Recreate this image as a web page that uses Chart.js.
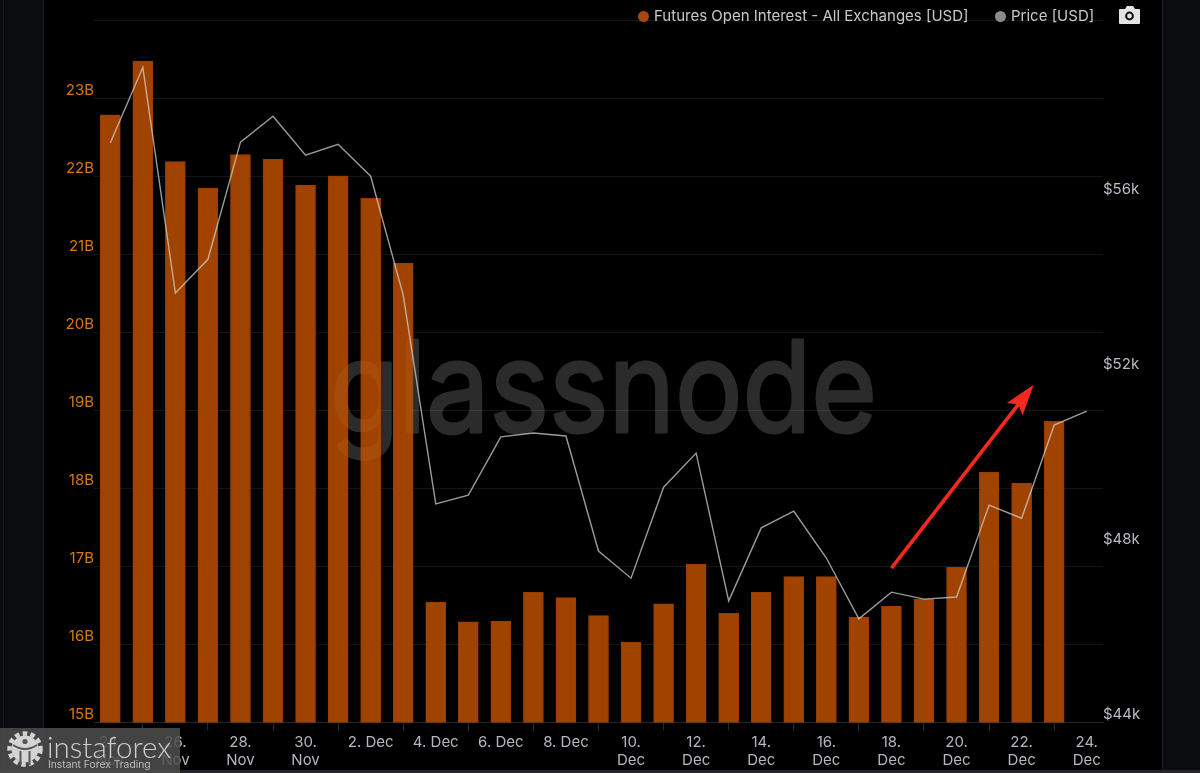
<!DOCTYPE html>
<html>
<head>
<meta charset="utf-8">
<title>Futures Open Interest</title>
<script src="https://cdn.jsdelivr.net/npm/chart.js@4"></script>
<style>
  html, body { margin: 0; padding: 0; background: #0b0c10; overflow: hidden; }
  #frame { position: relative; width: 1200px; height: 773px; overflow: hidden; font-family: Inter, sans-serif; }
  #panel { position: absolute; left: 43px; top: 0; width: 1120px; height: 770px; background: #000;
           border-left: 1px solid #1d1f24; border-right: 1px solid #1d1f24; box-sizing: border-box; }
  #strip { position: absolute; left: 3px; top: 0; width: 1px; height: 770px; background: #17181c; }
  #edge { position: absolute; left: 0; top: 770px; width: 1200px; height: 3px; background: #25242c; }
  #chart { position: absolute; left: 0; top: 0; }
  .leg { position: absolute; top: 7px; font-size: 15px; line-height: 18px; color: #c9c9c9; white-space: nowrap; }
  .dot { position: absolute; top: 11px; width: 11px; height: 11px; border-radius: 50%; }
  #camera { position: absolute; left: 1118px; top: 5px; }
  #insta { position: absolute; left: 0; top: 728px; width: 180px; height: 45px; background: rgba(78,78,78,0.86); }
  #insta svg { position: absolute; left: 6px; top: 2px; }
  #insta .name { position: absolute; left: 47px; top: 1px; font-family: Lato, sans-serif; font-weight: 300; font-size: 29.5px; line-height: 36px; color: #cdcdcd; }
  #insta .sub { position: absolute; left: 48px; top: 29px; font-family: Inter, sans-serif; font-size: 10.3px; line-height: 14px; color: #bdbdbd; }
</style>
</head>
<body>
<div id="frame">
  <div id="strip"></div>
  <div id="panel"></div>
  <div id="edge"></div>
  <canvas id="chart" width="1200" height="773"></canvas>
  <span class="dot" style="left:638px;background:#a8480f"></span>
  <span class="leg" id="legOi" style="left:654px"></span>
  <span class="dot" style="left:995px;background:#8a8a8a"></span>
  <span class="leg" id="legPrice" style="left:1011px"></span>
  <svg id="camera" width="23" height="20" viewBox="0 0 23 20">
    <path d="M2 4h5l2-3h6l2 3h4a1 1 0 0 1 1 1v13a1 1 0 0 1-1 1H2a1 1 0 0 1-1-1V5a1 1 0 0 1 1-1z" fill="#e4e4e4"/>
    <circle cx="11.5" cy="11" r="3.4" fill="none" stroke="#111" stroke-width="2"/>
  </svg>
  <div id="insta">
    <svg width="38" height="38" viewBox="0 0 38 38">
      <circle cx="19" cy="19" r="15.5" fill="none" stroke="#d4d4d4" stroke-width="4.5" stroke-dasharray="4.6 3.2"/>
      <circle cx="19" cy="19" r="13.5" fill="#d4d4d4"/>
      <path d="M14.5 35V21M23.5 35V21" stroke="#555" stroke-width="2"/>
      <path d="M7 15q12 8 24 0" fill="none" stroke="#555" stroke-width="2"/>
      <circle cx="19" cy="11.5" r="2.6" fill="#555"/>
    </svg>
    <span class="name">instaforex</span>
    <span class="sub">Instant Forex Trading</span>
  </div>
</div>
<script>
  // Values
  const categories = [
    '24. Nov', '25. Nov', '26. Nov', '27. Nov', '28. Nov', '29. Nov', '30. Nov',
    '1. Dec', '2. Dec', '3. Dec', '4. Dec', '5. Dec', '6. Dec', '7. Dec', '8. Dec', '9. Dec',
    '10. Dec', '11. Dec', '12. Dec', '13. Dec', '14. Dec', '15. Dec', '16. Dec', '17. Dec',
    '18. Dec', '19. Dec', '20. Dec', '21. Dec', '22. Dec', '23. Dec', '24. Dec'
  ];
  const openInterest = [
    22.79, 23.48, 22.19, 21.85, 22.28, 22.22, 21.89, 22.01, 21.72, 20.89,
    16.54, 16.29, 16.30, 16.67, 16.60, 16.37, 16.03, 16.52, 17.03, 16.40,
    16.67, 16.87, 16.87, 16.35, 16.49, 16.58, 16.99, 18.21, 18.07, 18.86
  ];
  const price = [
    57.25, 58.98, 53.82, 54.59, 57.27, 57.86, 56.97, 57.22, 56.49, 53.77,
    49.00, 49.20, 50.53, 50.62, 50.55, 47.92, 47.30, 49.38, 50.16, 46.78,
    48.45, 48.83, 47.76, 46.37, 46.98, 46.82, 46.87, 48.97, 48.67, 50.80, 51.12
  ];
  const oiTicks = [15, 16, 17, 18, 19, 20, 21, 22, 23, 24];
  const priceTicks = [44, 48, 52, 56];
  const oiName = 'Futures Open Interest - All Exchanges [USD]';
  const priceName = 'Price [USD]';
  // arrow annotation: [category index, open interest value]
  const arrowFrom = [24, 16.98];
  const arrowTo = [28.37, 19.33];

  document.getElementById('legOi').textContent = oiName;
  document.getElementById('legPrice').textContent = priceName;

  function setTicks(list) {
    return function (scale) {
      scale.ticks = list.map(function (v) { return { value: v }; });
    };
  }

  // offscreen so fill and stroke do not add up their alpha
  function glassnodeLayer() {
    const off = document.createElement('canvas');
    off.width = 1200;
    off.height = 773;
    const o = off.getContext('2d');
    o.font = '400 126px Inter, sans-serif';
    const w = o.measureText('glassnode').width;
    o.translate(330, 432);
    o.scale(547 / w, 1);
    o.fillStyle = '#fff';
    o.strokeStyle = '#fff';
    o.lineWidth = 3;
    o.lineJoin = 'round';
    o.fillText('glassnode', 0, 0);
    o.strokeText('glassnode', 0, 0);
    return off;
  }
  const glassnode = glassnodeLayer();

  function drawGlassnode(ctx, alpha) {
    ctx.save();
    ctx.globalAlpha = alpha;
    ctx.drawImage(glassnode, 0, 0);
    ctx.restore();
  }

  // strong on the black background, only faint over the bars
  const watermark = {
    id: 'watermark',
    beforeDatasetDraw(chart, args) {
      if (args.index === 0) drawGlassnode(chart.ctx, 0.12);
    },
    afterDatasetDraw(chart, args) {
      if (args.index === 0) drawGlassnode(chart.ctx, 0.05);
    }
  };

  const arrow = {
    id: 'arrow',
    afterDatasetsDraw(chart) {
      const x = chart.scales.x, y = chart.scales.y;
      const x0 = x.getPixelForValue(arrowFrom[0]), y0 = y.getPixelForValue(arrowFrom[1]);
      const x1 = x.getPixelForValue(arrowTo[0]), y1 = y.getPixelForValue(arrowTo[1]);
      const a = Math.atan2(y1 - y0, x1 - x0);
      const ctx = chart.ctx;
      ctx.save();
      ctx.translate(x1, y1);
      ctx.rotate(a);
      const len = Math.hypot(x1 - x0, y1 - y0);
      ctx.strokeStyle = '#f9281e';
      ctx.lineWidth = 3.6;
      ctx.beginPath();
      ctx.moveTo(-len, 0);
      ctx.lineTo(-24, 0);
      ctx.stroke();
      ctx.fillStyle = '#f9281e';
      ctx.beginPath();
      ctx.moveTo(0, 0);
      ctx.lineTo(-31, -10);
      ctx.lineTo(-25, 0);
      ctx.lineTo(-31, 10);
      ctx.closePath();
      ctx.fill();
      ctx.restore();
    }
  };

  new Chart(document.getElementById('chart'), {
    type: 'bar',
    data: {
      labels: categories,
      datasets: [{
        type: 'bar',
        label: oiName,
        data: openInterest,
        yAxisID: 'y',
        order: 2,
        backgroundColor: '#a04200',
        borderColor: '#963e01',
        borderWidth: 1,
        barThickness: 20
      }, {
        type: 'line',
        label: priceName,
        data: price,
        yAxisID: 'y2',
        order: 1,
        borderColor: 'rgba(214,214,214,0.72)',
        borderWidth: 1.4,
        pointRadius: 0,
        tension: 0
      }]
    },
    options: {
      responsive: false,
      animation: false,
      layout: { padding: { top: 20.5 } },
      plugins: { legend: { display: false }, tooltip: { enabled: false } },
      scales: {
        x: {
          afterBuildTicks(scale) {
            scale.ticks = scale.ticks.filter(function (t) { return t.value % 2 === 0; });
          },
          afterFit(scale) { scale.height = 50.5; },
          grid: { drawOnChartArea: false, color: '#26282c', tickLength: 8 },
          border: { color: '#26282c' },
          ticks: {
            autoSkip: false,
            maxRotation: 0,
            padding: 3,
            color: '#b4b7bf',
            font: { family: 'Inter', size: 15 },
            callback(v) {
              const parts = categories[v].split(' ');
              return parts[0].length > 2 ? parts : categories[v];
            }
          }
        },
        y: {
          position: 'left',
          min: 15,
          max: 24,
          afterBuildTicks: setTicks(oiTicks),
          afterFit(scale) { scale.width = 94; },
          grid: { color: 'rgba(255,255,255,0.085)', drawTicks: false },
          border: { display: false },
          ticks: {
            padding: 0,
            labelOffset: -8.5,
            color: '#d6780c',
            font: { family: 'Inter', size: 15 },
            callback(v) { return v === 24 ? '' : v + 'B'; }
          }
        },
        y2: {
          position: 'right',
          min: 44,
          max: 60.05,
          afterBuildTicks: setTicks(priceTicks),
          afterFit(scale) { scale.width = 97; },
          grid: { display: false, drawTicks: false },
          border: { display: false },
          ticks: {
            padding: 0,
            labelOffset: -8.5,
            color: '#b8bcc4',
            font: { family: 'Inter', size: 15 },
            callback(v) { return '$' + v + 'k'; }
          }
        }
      }
    },
    plugins: [watermark, arrow]
  });
</script>
</body>
</html>
